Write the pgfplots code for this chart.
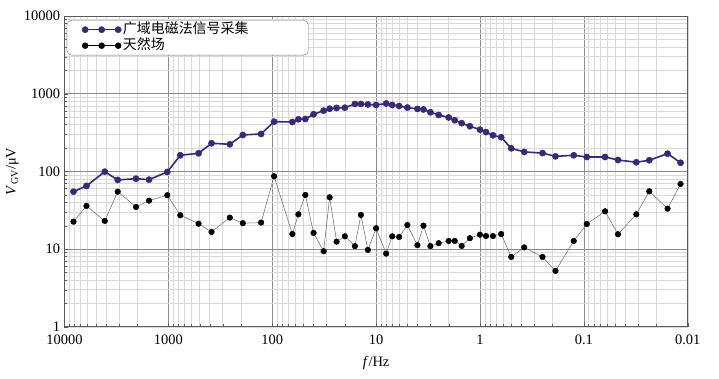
\documentclass[border=0pt]{standalone}
\usepackage{fontspec}
\setmainfont{Liberation Serif}
\newfontfamily\cjk{Noto Sans CJK SC}
\usepackage{pgfplots}
\pgfplotsset{compat=1.18}
\definecolor{purp}{RGB}{58,40,118}
\pgfplotsset{threemark legend/.style={legend image code/.code={\path (0bp,0bp) (52bp,0bp); \draw[##1] plot coordinates {(15.5bp,0bp) (32bp,0bp) (48.5bp,0bp)};}}}
\begin{document}
\begin{tikzpicture}
\begin{axis}[
  scale only axis,
  width=623.2bp, height=310.7bp,
  xmode=log, ymode=log,
  x dir=reverse,
  xmin=0.01, xmax=10000,
  ymin=1, ymax=10000,
  log ticks with fixed point,
  /pgf/number format/1000 sep={},
  /pgf/number format/assume math mode=true,
  ticklabel style={font=\fontsize{14.5}{16}\selectfont},
  xticklabel style={yshift=-7bp, inner ysep=1pt},
  yticklabel style={xshift=-1bp, inner ysep=0.5pt},
  grid=both,
  major grid style={draw=black!45, line width=0.5pt},
  minor grid style={draw=black!15, line width=0.4pt},
  axis line style={draw=black!65, line width=0.7pt},
  tick align=inside,
  tick style={draw=black!65},
  major tick length=4bp, minor tick length=2.5bp,
  xtick pos=bottom, ytick pos=left,
  xlabel={\textit{f}/Hz},
  ylabel={\textit{V}\textsubscript{GV}/μV},
  label style={font=\fontsize{14.5}{16}\selectfont},
  xlabel style={at={(axis description cs:0.5,0)}, anchor=center, yshift=-36bp},
  ylabel style={at={(axis description cs:-0.0834,0.5)}, anchor=center},
  legend style={at={(axis description cs:0,1)}, anchor=north west,
    xshift=2.2bp, yshift=-4bp, draw=black!55,
    rounded corners=5pt, fill=white, inner xsep=2pt, inner ysep=2pt,
    font=\fontsize{14}{15}\cjk, row sep=1pt,
    nodes={inner sep=0.5pt, text height=11bp, text depth=3bp}},
  legend cell align=left,
]
\addplot[color=purp, line width=1.6pt, mark=*, mark size=3.1bp,
  mark options={fill=purp, draw=purp, line width=0.5pt},
  threemark legend]
coordinates {
(8192,54.8) (6144,64.9) (4096,99.1) (3072,77.5) (2048,80.5) (1536,78.2)
(1024,98.2) (768,161) (512,171) (384,230) (256,223) (192,294) (128,303)
(96,436) (64,432) (56,468) (48,472) (40,543) (32,604) (28,641) (24,655)
(20,660) (16,737) (14,737) (12,726) (10,715) (8,748) (7,715) (6,694)
(5,662) (4,636) (3.5,626) (3,576) (2.5,532) (2,494) (1.75,455) (1.5,417)
(1.25,381) (1,344) (0.875,320) (0.75,291) (0.625,275) (0.5,198)
(0.375,178) (0.25,172) (0.1875,156) (0.125,161) (0.09375,153)
(0.0625,153) (0.046875,140) (0.03125,131) (0.0234375,139)
(0.015625,169) (0.01171875,129)
};
\addlegendentry{\makebox[183bp][l]{广域电磁法信号采集}}
\addplot[color=black!60, line width=0.5pt, mark=*, mark size=2.8bp,
  mark options={fill=black, draw=black},
  legend image code/.code={\path (0bp,0bp) (52bp,0bp); \draw[black, line width=0.8pt, mark=*, mark size=2.8bp] plot coordinates {(15.5bp,0bp) (32bp,0bp) (48.5bp,0bp)};}]
coordinates {
(8192,22.5) (6144,35.9) (4096,23.0) (3072,54.8) (2048,34.8) (1536,42.0)
(1024,49.3) (768,27.2) (512,21.2) (384,16.6) (256,25.4) (192,21.5)
(128,21.9) (96,86.5) (64,15.6) (56,28.0) (48,49.7) (40,16.1) (32,9.37)
(28,46.4) (24,12.45) (20,14.6) (16,10.9) (14,27.5) (12,9.74) (10,18.5)
(8,8.73) (7,14.6) (6,14.3) (5,20.4) (4,11.2) (3.5,20.0) (3,10.9)
(2.5,11.9) (2,12.7) (1.75,12.7) (1.5,10.96) (1.25,13.8) (1,15.3)
(0.875,14.7) (0.75,14.7) (0.625,15.6) (0.5,7.91) (0.375,10.5)
(0.25,7.91) (0.1875,5.23) (0.125,12.7) (0.09375,21.0) (0.0625,30.6)
(0.046875,15.5) (0.03125,28.0) (0.0234375,55.4) (0.015625,33.1)
(0.01171875,68.8)
};
\addlegendentry{天然场}
\end{axis}
\pgfresetboundingbox
\path[use as bounding box] ([shift={(-64.5bp,-51.3bp)}]current axis.south west) rectangle ([shift={(31.3bp,16bp)}]current axis.north east);
\end{tikzpicture}
\end{document}
